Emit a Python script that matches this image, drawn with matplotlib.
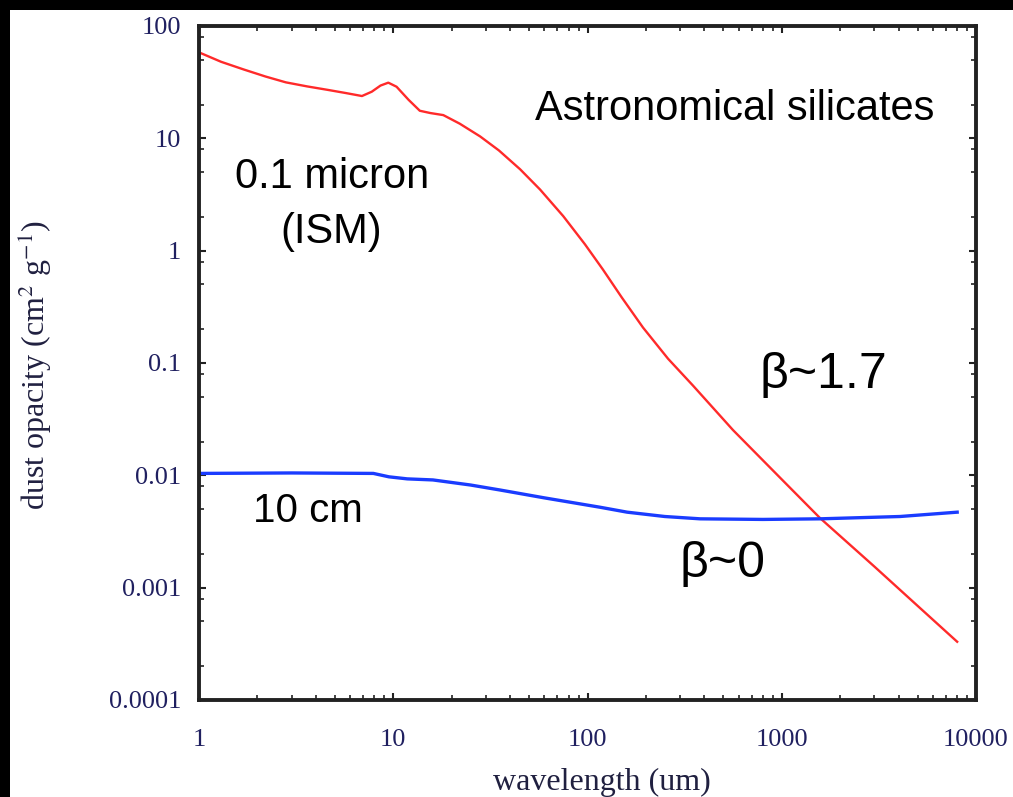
import numpy as np
import matplotlib
matplotlib.use("Agg")
import matplotlib.pyplot as plt
from matplotlib.ticker import LogLocator, NullFormatter, FixedLocator, FixedFormatter
from matplotlib.patches import Rectangle

# ---- data ----
ism_wavelength = [1.03, 1.3, 1.7, 2.2, 2.8, 3.6, 4.6, 5.7, 6.9, 7.75, 8.6, 9.43, 10.4,
                  12.0, 13.7, 15.5, 18.1, 22, 28, 35, 45, 57, 75, 97, 120, 150, 193,
                  260, 349, 561, 1000, 1573, 3000, 5000, 8000]
ism_opacity = [57, 48, 41, 35.5, 31.5, 29, 27, 25.3, 23.8, 26, 29.5, 31.3, 28.8,
               22, 17.6, 16.8, 16.1, 13.5, 10.4, 7.8, 5.3, 3.5, 2.03, 1.14, 0.68, 0.384,
               0.207, 0.109, 0.063, 0.0253, 0.0092, 0.00417, 0.00154, 0.00069, 0.00033]

cm_wavelength = [1, 3, 7.9, 9.5, 11.8, 16, 25, 35.5, 60, 116, 160, 250, 380, 800,
                 1573, 4060, 8000]
cm_opacity = [0.0104, 0.0105, 0.0104, 0.0097, 0.0093, 0.0091, 0.0082, 0.0074, 0.0063,
              0.0052, 0.0047, 0.0043, 0.0041, 0.00405, 0.0041, 0.0043, 0.0047]

x_ticks = [1, 10, 100, 1000, 10000]
x_ticklabels = ["1", "10", "100", "1000", "10000"]
y_ticks = [1e-4, 1e-3, 1e-2, 0.1, 1, 10, 100]
y_ticklabels = ["0.0001", "0.001", "0.01", "0.1", "1", "10", "100"]

plt.rcParams["mathtext.fontset"] = "stix"

fig = plt.figure(figsize=(10.13, 7.97), dpi=100)
fig.patch.set_facecolor("white")
# black frame strips at top and left of the reference picture
fig.patches.append(Rectangle((0, 1 - 10 / 797), 1, 10 / 797, transform=fig.transFigure,
                             facecolor="black", edgecolor="none", zorder=0))
fig.patches.append(Rectangle((0, 0), 10 / 1013, 1, transform=fig.transFigure,
                             facecolor="black", edgecolor="none", zorder=0))

ax = fig.add_axes([199 / 1013, 1 - 700 / 797, 777 / 1013, 674 / 797])
ax.set_xscale("log")
ax.set_yscale("log")
ax.set_xlim(1, 10000)
ax.set_ylim(1e-4, 100)

ax.plot(ism_wavelength, ism_opacity, color="#ff2a2a", lw=1.7, solid_joinstyle="round")
ax.plot(cm_wavelength, cm_opacity, color="#1a3cff", lw=2.4, solid_joinstyle="round")

tick_color = "#202060"
serif = ["Liberation Serif", "DejaVu Serif"]
ax.xaxis.set_major_locator(FixedLocator(x_ticks))
ax.xaxis.set_major_formatter(FixedFormatter(x_ticklabels))
ax.yaxis.set_major_locator(FixedLocator(y_ticks))
ax.yaxis.set_major_formatter(FixedFormatter(y_ticklabels))
ax.xaxis.set_minor_locator(LogLocator(base=10, subs=np.arange(2, 10), numticks=20))
ax.yaxis.set_minor_locator(LogLocator(base=10, subs=(2, 5, 8), numticks=20))
ax.xaxis.set_minor_formatter(NullFormatter())
ax.yaxis.set_minor_formatter(NullFormatter())

ax.tick_params(which="both", direction="in", top=True, right=True, color="#222222")
ax.tick_params(which="major", length=5, width=1.5)
ax.tick_params(which="minor", length=3.5, width=1.2)
ax.tick_params(axis="x", which="major", pad=21, labelsize=19, labelcolor=tick_color)
ax.tick_params(axis="y", which="major", pad=13, labelsize=19, labelcolor=tick_color)
for lab in ax.get_xticklabels() + ax.get_yticklabels():
    lab.set_family(serif)

for sp in ax.spines.values():
    sp.set_linewidth(2.8)
    sp.set_color("#222222")

ax.set_xlabel("wavelength (um)", family=serif, fontsize=23, color="#202040")
ax.xaxis.set_label_coords(0.519, -0.122)
ax.xaxis.label.set_va("center")
ax.set_ylabel(r"dust opacity (cm$^{2}$ g$^{-1}$)", family=serif, fontsize=23,
              color="#202040")
ax.yaxis.set_label_coords(-0.211, 0.497)
ax.yaxis.label.set_va("center")

sans = ["Liberation Sans", "DejaVu Sans"]
ax.text(0.4324, 0.8605, "Astronomical silicates", transform=ax.transAxes, family=sans,
        fontsize=30, ha="left", va="baseline", color="black")
ax.text(0.0463, 0.759, "0.1 micron", transform=ax.transAxes, family=sans,
        fontsize=30, ha="left", va="baseline", color="black")
ax.text(0.170, 0.678, "(ISM)", transform=ax.transAxes, family=sans,
        fontsize=30, ha="center", va="baseline", color="black")
ax.text(0.0695, 0.2645, "10 cm", transform=ax.transAxes, family=sans,
        fontsize=29, ha="left", va="baseline", color="black")
ax.text(0.722, 0.463, "β~1.7", transform=ax.transAxes, family=sans,
        fontsize=36, ha="left", va="baseline", color="black")
ax.text(0.619, 0.183, "β~0", transform=ax.transAxes, family=sans,
        fontsize=36, ha="left", va="baseline", color="black")

fig.savefig("out.png", dpi=100, facecolor="white")
